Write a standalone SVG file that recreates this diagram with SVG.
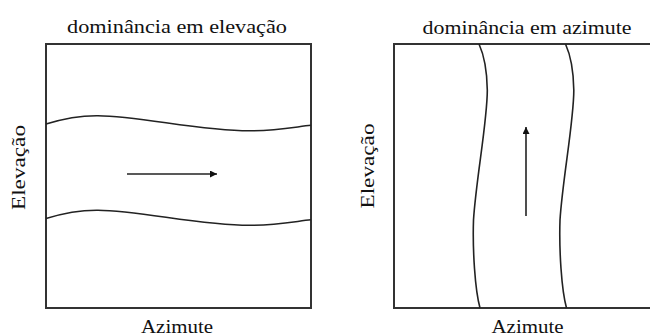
<svg xmlns="http://www.w3.org/2000/svg" width="650" height="336" viewBox="0 0 650 336">
<style>
text{font-family:"Liberation Serif","Times New Roman",serif;font-size:19px;fill:#111}
.box{fill:none;stroke:#333;stroke-width:2}
.curve{fill:none;stroke:#222;stroke-width:1.6}
.arrow{fill:none;stroke:#222;stroke-width:1.6}
</style>
<defs>
<marker id="ah" markerUnits="userSpaceOnUse" markerWidth="8" markerHeight="8" refX="7" refY="3.5" orient="auto">
<path d="M0,0 L7,3.5 L0,7 z" fill="#111"/>
</marker>
<path id="wave" d="M46,124 C62,119 80,115.5 98,115.7 C140,116 200,131 250,130.8 C275,130.7 295,127 311,125.3"/>
<path id="vwave" d="M479,44 C484,55 487,70 487.3,90 C487.5,120 476,180 473.5,220 C472.5,250 475,290 480,308"/>
</defs>
<rect width="650" height="336" fill="#fff"/>
<g id="panel-elevacao">
<text x="177" y="33" text-anchor="middle" textLength="220" lengthAdjust="spacingAndGlyphs">dominância em elevação</text>
<rect class="box" x="46" y="44" width="265" height="264"/>
<use href="#wave" class="curve"/>
<use href="#wave" class="curve" transform="translate(0,94.5)"/>
<text x="177" y="333" text-anchor="middle" textLength="72" lengthAdjust="spacingAndGlyphs">Azimute</text>
<text transform="translate(25,167.5) rotate(-90)" text-anchor="middle" textLength="85" lengthAdjust="spacingAndGlyphs">Elevação</text>
</g>
<g id="panel-azimute">
<text x="527" y="34" text-anchor="middle" textLength="209" lengthAdjust="spacingAndGlyphs">dominância em azimute</text>
<path class="box" d="M660,44 H394 V308 H660"/>
<use href="#vwave" class="curve"/>
<use href="#vwave" class="curve" transform="translate(86.5,0)"/>
<text x="527.5" y="333" text-anchor="middle" textLength="72" lengthAdjust="spacingAndGlyphs">Azimute</text>
<text transform="translate(374,166) rotate(-90)" text-anchor="middle" textLength="85" lengthAdjust="spacingAndGlyphs">Elevação</text>
</g>
<g id="connectors">
<line class="arrow" x1="127" y1="174" x2="217" y2="174" marker-end="url(#ah)"/>
<line class="arrow" x1="526" y1="216" x2="526" y2="127" marker-end="url(#ah)"/>
</g>
</svg>
